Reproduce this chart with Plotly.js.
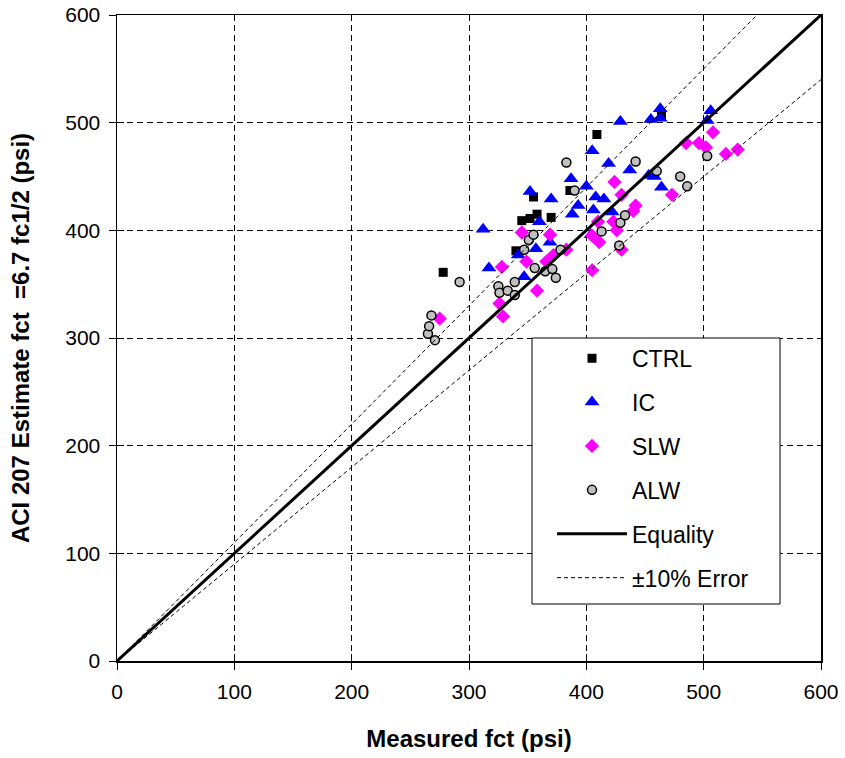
<!DOCTYPE html>
<html>
<head>
<meta charset="utf-8">
<script src="https://cdn.plot.ly/plotly-3.0.1.min.js"></script>
<style>html,body{margin:0;padding:0;background:#fff;}#chart{width:845px;height:758px;}</style>
</head>
<body>
<div id="chart"></div>
<script>
// ---- data (measured fct, estimated fct), psi ----
const ctrlX = [278, 340, 345, 352, 358, 355, 370, 386, 409, 464];
const ctrlY = [361, 381, 409, 411, 415, 431, 412, 437, 489, 506];

const icX = [312, 317, 342, 347, 352, 357, 360, 369, 370, 387, 388, 393, 400, 404, 405, 406, 408, 415, 419, 422, 429, 437, 453, 455, 458, 463, 463, 464, 503, 506];
const icY = [401, 365, 377, 357, 436, 383, 408, 389, 429, 448, 415, 423, 441, 396, 474, 419, 431, 429, 462, 417, 501, 456, 451, 503, 450, 513, 504, 440, 502, 511];

const slwX = [275, 326, 329, 328, 345, 349, 358, 366, 372, 369, 383, 405, 405, 410, 411, 423, 426, 430, 424, 430, 440, 442, 473, 485, 496, 502, 508, 519, 529];
const slwY = [318, 332, 320, 366, 398, 371, 344, 371, 377, 396, 382, 395, 363, 408, 389, 408, 400, 382, 445, 433, 418, 423, 433, 481, 481, 477, 491, 471, 475];

const alwX = [265, 266, 268, 271, 292, 325, 326, 333, 339, 339, 347, 351, 355, 356, 365, 371, 374, 378, 383, 390, 413, 428, 429, 433, 442, 460, 480, 486, 503];
const alwY = [304, 311, 321, 298, 352, 348, 342, 344, 340, 352, 382, 391, 396, 365, 362, 364, 356, 382, 463, 437, 399, 386, 407, 414, 464, 455, 450, 441, 469];

const axisMax = 600;
const errorFactors = [1.1, 0.9];
const tickVals = [0, 100, 200, 300, 400, 500, 600];

const font = "Arial, 'Liberation Sans', sans-serif";

function errLine(f) {
  // line y = f*x clipped to the axis box
  const xEnd = Math.min(axisMax, axisMax / f);
  return { x: [0, xEnd], y: [0, f * xEnd] };
}

const traces = [
  { name: 'CTRL', x: ctrlX, y: ctrlY, type: 'scatter', mode: 'markers', legendgroup: 'a',
    marker: { symbol: 'square', size: 9, color: '#000000' } },
  { name: 'IC', x: icX, y: icY, type: 'scatter', mode: 'markers', legendgroup: 'b',
    marker: { symbol: 'triangle-up', size: 13, color: '#0000FF' } },
  { name: 'SLW', x: slwX, y: slwY, type: 'scatter', mode: 'markers', legendgroup: 'c',
    marker: { symbol: 'diamond', size: 11, color: '#FF00FF' } },
  { name: 'ALW', x: alwX, y: alwY, type: 'scatter', mode: 'markers', legendgroup: 'd',
    marker: { symbol: 'circle', size: 9, color: '#C0C0C0', line: { color: '#000000', width: 1.5 } } },
  { name: 'Equality', x: [0, axisMax], y: [0, axisMax], type: 'scatter', mode: 'lines', legendgroup: 'e',
    line: { color: '#000000', width: 3 } },
];
errorFactors.forEach((f, i) => {
  const l = errLine(f);
  traces.push({ name: '±10% Error', x: l.x, y: l.y, type: 'scatter', mode: 'lines', legendgroup: 'f',
    showlegend: i === 0, line: { color: '#000000', width: 1, dash: '4px,3px' } });
});
// invisible trace to carry the inner tick axes
traces.push({ x: [0], y: [0], xaxis: 'x2', yaxis: 'y2', type: 'scatter', mode: 'markers',
  marker: { opacity: 0 }, showlegend: false, hoverinfo: 'skip' });

const baseAxis = {
  range: [0, axisMax], tickvals: tickVals, ticks: 'outside', ticklen: 7, tickwidth: 1, tickcolor: '#000',
  showline: true, linecolor: '#000', linewidth: 1.5, mirror: true, ticklabelstandoff: 4,
  showgrid: true, gridcolor: '#000', gridwidth: 1, griddash: '6px,4px', zeroline: false,
  tickfont: { family: font, size: 21, color: '#000' }, fixedrange: true
};

const layout = {
  width: 845, height: 758,
  margin: { l: 117, r: 24, t: 15, b: 97 },
  paper_bgcolor: '#fff', plot_bgcolor: '#fff',
  showlegend: true,
  xaxis: Object.assign({}, baseAxis, {
    title: { text: 'Measured fct (psi)', font: { family: font, size: 24, color: '#000', weight: 'bold' }, standoff: 28 }
  }),
  yaxis: Object.assign({}, baseAxis, {
    title: { text: 'ACI 207 Estimate fct  =6.7 fc1/2 (psi)', font: { family: font, size: 24, color: '#000', weight: 'bold' }, standoff: 29 }
  }),
  xaxis2: { overlaying: 'x', range: [0, axisMax], tickvals: tickVals, ticks: 'inside', ticklen: 7, tickcolor: '#000',
    showticklabels: false, showgrid: false, zeroline: false, showline: false, fixedrange: true },
  yaxis2: { overlaying: 'y', range: [0, axisMax], tickvals: tickVals, ticks: 'inside', ticklen: 7, tickcolor: '#000',
    showticklabels: false, showgrid: false, zeroline: false, showline: false, fixedrange: true },
  shapes: [
    { type: 'rect', xref: 'paper', yref: 'paper', x0: 0.5895, x1: 0.9418, y0: 0.0882, y1: 0.5,
      fillcolor: '#fff', line: { color: '#000', width: 1 }, layer: 'above' }
  ],
  legend: {
    x: 0.6179, y: 0.502, xanchor: 'left', yanchor: 'top',
    bgcolor: 'rgba(0,0,0,0)', borderwidth: 0,
    font: { family: font, size: 23, color: '#000' },
    traceorder: 'grouped', tracegroupgap: 11, itemwidth: 70
  }
};

Plotly.newPlot('chart', traces, layout, { displayModeBar: false, staticPlot: true });
</script>
</body>
</html>
